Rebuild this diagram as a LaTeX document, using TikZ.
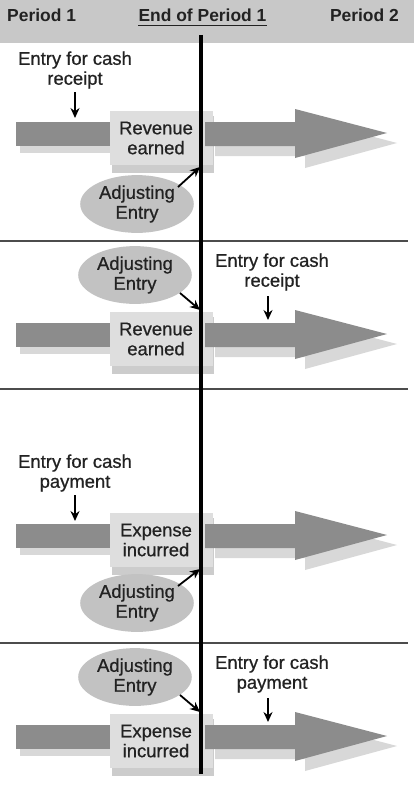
\documentclass[tikz,border=0pt]{standalone}
\usepackage{fontspec}
\setmainfont{Liberation Sans}
\newfontfamily\medfont[FakeBold=0.7]{Liberation Sans}
\usetikzlibrary{shapes.geometric,arrows.meta}
\definecolor{hdrgray}{HTML}{C8C8C8}
\definecolor{bargray}{HTML}{8C8C8C}
\definecolor{boxgray}{HTML}{DEDEDE}
\definecolor{boxshadow}{HTML}{CCCCCC}
\definecolor{shadowgray}{HTML}{D8D8D8}
\definecolor{ellgray}{HTML}{C2C2C2}
\definecolor{txtgray}{HTML}{222222}
\tikzset{
  lbl/.style={font=\medfont\fontsize{18.5}{20}\selectfont, text=txtgray, align=center, inner sep=0pt},
  hdrlbl/.style={font=\fontsize{17.5}{20}\selectfont\bfseries, text=txtgray, inner sep=0pt, anchor=base},
  adj/.style={ellipse, fill=ellgray, minimum width=114, minimum height=58, inner sep=0pt, lbl},
  ptr/.style={-{Stealth[length=10, width=9]}, line width=1.8, black},
  sep/.style={draw=black!70, line width=1.2},
}
\newcommand\rowbase[3]{% #1 suffix, #2 y centre, #3 box text
  \begin{scope}[shift={(0,#2)}]
    % bar shadow and bar
    \fill[shadowgray] (20,-5) rectangle (110,19);
    \fill[bargray] (16,-12) rectangle (110,12);
    % box
    \fill[boxshadow] (112,-18) rectangle (214,39);
    \fill[boxgray] (110,-23) rectangle (213,31);
    % right arrow shadow and arrow
    \fill[shadowgray] (215,-2) -- (305,-2) -- (305,-15) -- (397,9) -- (305,34) -- (305,22) -- (215,22) -- cycle;
    \fill[bargray] (205,-12) -- (295,-12) -- (295,-25) -- (387,-1) -- (295,24) -- (295,12) -- (205,12) -- cycle;
    \node[lbl] (box#1) at (156,4) {#3};
    \coordinate (lineA#1) at (200,33);
    \coordinate (lineB#1) at (200,-25);
  \end{scope}
}
\begin{document}
\begin{tikzpicture}[x=1bp,y=-1bp]
\useasboundingbox (0,0) rectangle (414,787);
\fill[white] (0,0) rectangle (414,787);
% header
\fill[hdrgray] (0,0) rectangle (414,43);
\node[hdrlbl, anchor=base west] (p1) at (7,22) {Period 1};
\node[hdrlbl] (eop) at (202.5,22) {End of Period 1};
\node[hdrlbl, anchor=base east] (p2) at (399,22) {Period 2};
\draw[line width=1.5, txtgray] ([yshift=-3.5]eop.base west) -- ([yshift=-3.5]eop.base east);

% separators
\draw[sep] (0,241) -- (408,241);
\draw[sep] (0,389) -- (408,389);
\draw[sep] (0,643) -- (408,643);

% rows
\rowbase{a}{134}{Revenue\\earned}
\rowbase{b}{335}{Revenue\\earned}
\rowbase{c}{536}{Expense\\incurred}
\rowbase{d}{737}{Expense\\incurred}

% vertical line
\coordinate (vtop) at (201,35);
\coordinate (vbot) at (201,774);
\draw[line width=4, black] (vtop) -- (vbot);

% row 1
\node[lbl] (ca) at (75,70) {Entry for cash\\receipt};
\coordinate (caA) at (75,92);
\coordinate (caB) at (75,118);
\draw[ptr] (caA) -- (caB);
\node[adj] (adja) at (137,204) {Adjusting\\Entry};
\coordinate (aa) at (178,187);
\draw[ptr] (aa) -- (lineAa);

% row 2
\node[adj] (adjb) at (135,275) {Adjusting\\Entry};
\coordinate (ab) at (180,293);
\draw[ptr] (ab) -- (lineBb);
\node[lbl] (cb) at (272,272) {Entry for cash\\receipt};
\coordinate (cbA) at (268,296);
\coordinate (cbB) at (268,320);
\draw[ptr] (cbA) -- (cbB);

% row 3
\node[lbl] (cc) at (75,473) {Entry for cash\\payment};
\coordinate (ccA) at (75,495);
\coordinate (ccB) at (75,521);
\draw[ptr] (ccA) -- (ccB);
\node[adj] (adjc) at (137,603) {Adjusting\\Entry};
\coordinate (ac) at (178,586);
\draw[ptr] (ac) -- (lineAc);

% row 4
\node[adj] (adjd) at (135,677) {Adjusting\\Entry};
\coordinate (ad) at (180,695);
\draw[ptr] (ad) -- (lineBd);
\node[lbl] (cd) at (272,674) {Entry for cash\\payment};
\coordinate (cdA) at (268,698);
\coordinate (cdB) at (268,722);
\draw[ptr] (cdA) -- (cdB);
\end{tikzpicture}
\end{document}
